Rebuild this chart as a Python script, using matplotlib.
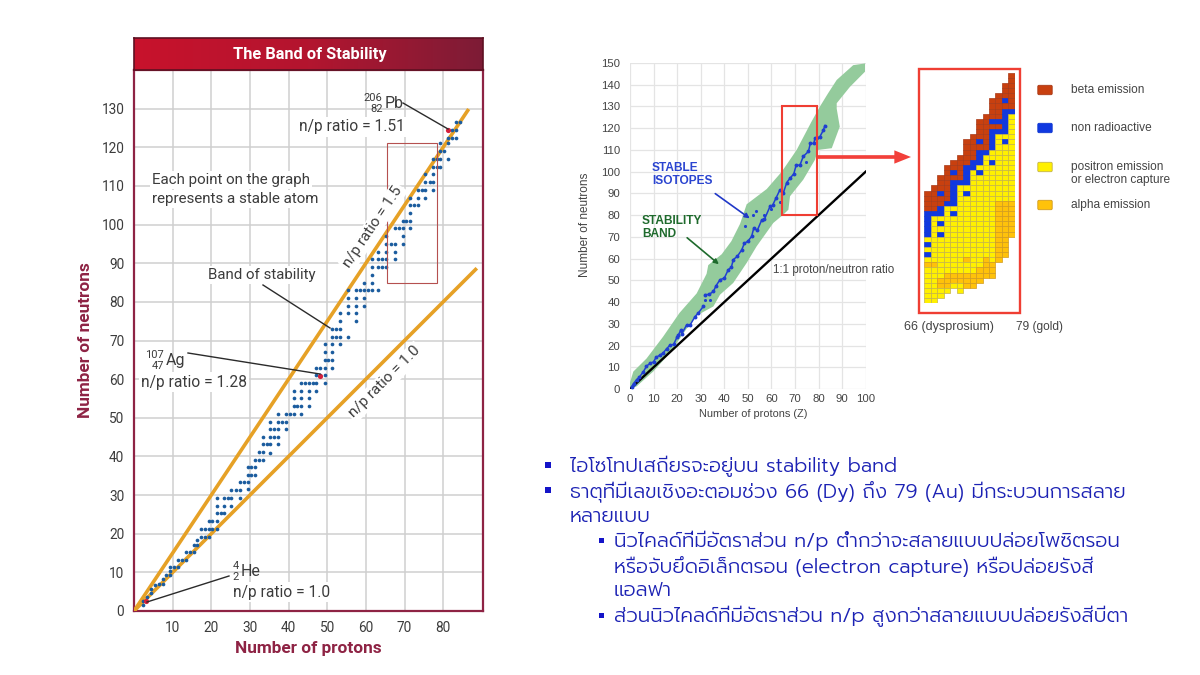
import numpy as np
import matplotlib
matplotlib.use('Agg')
import matplotlib.pyplot as plt
from matplotlib.colors import LinearSegmentedColormap
from matplotlib.patches import Rectangle, FancyBboxPatch

W, H = 1200, 675

# left chart: stable atoms, one list of neutron values per proton column
dot_z = [2.3,3.3,4.3,5.4,6.4,7.4,8.4,9.4,10.4,11.4,12.4,13.4,14.4,15.4,16.4,17.3,18.3,19.3,20.3,21.4,
         22.4,23.3,24.3,25.2,26.3,27.4,28.4,29.5,30.4,31.2,32.3,33.4,34.3,35.1,36.2,37.3,38.4,39.4,40.4,41.3,
         42.3,43.3,44.3,45.2,46.2,47.1,48.2,49.3,50.3,51.3,52.3,53.3,55.4,57.4,58.4,59.5,60.5,61.5,63.2,64.2,
         65.3,66.4,67.5,68.5,69.5,70.5,71.4,72.4,73.4,74.4,75.4,76.5,77.4,78.4,79.3,80.3,81.3,82.3,83.3,84.3]
dot_n = [[1.5,2.6],[3.7],[4.7,5.6],[6.7],[7.1],[7.1,8.2],[9.2],[9.2,10.3,11.4],[11.4],[11.4,13.3],[13.3],
         [13.3,15.3],[15.3],[15.3,17.2],[17.2,18.3],[19.1,21.3],[19.1,21.3],[19.1,21.3,23.4],[21.3,23.4],
         [21.3,23.4,25.3,27.3,29.2],[25.3],[25.3,27.3,29.2],[29.2],[27.3,29.2,31.2],[31.2],[29.2,31.2,33.4],
         [33.4],[31.5,33.4,35.3,37.2],[35.3,37.2],[35.3,37.2,39.1],[39.1,41.1],[39.1,41.1,43.1,45],[43.1],
         [41,43.1,45,47.2,49],[45,47.2],[43.1,45,47.2,49,51],[49],[47.2,49,51],[51],[51,53,55.2,57],[53],
         [51,53,55.2,57,59],[59],[53,55.2,57,59],[59],[57,59,61,63],[61,63],[59,61,63,65,67,69],[65],
         [63,65,67,69,71,73],[71,73],[69,71,73,75,77],[71,77,79,81,83],[75,77,79,81,83],[83],[79,81,83,85],
         [83],[83,85,87,89,91],[83,89,91,93],[89,91],[89,91,93,95,97],[95],[91,93,95,99],[99],[95,97,99,101],
         [101],[99,101,103,105,107],[105],[105,107,109],[109],[107,109,111,113],[111],[109,111,113,115,117],
         [115,117],[115,117,119,121],[119],[117,121,122.5,124.6],[122.5,124.6],[122.5,124.6,126.6],[126.6]]
marked_z = [3.1, 48.2, 81.3]
marked_n = [2.6, 60.9, 124.6]
ratio_one_z = [0, 88.7]
ratio_one_n = [0, 88.7]
ratio_15_z = [0, 86.6]
ratio_15_n = [0, 129.9]
left_ticks_x = [10, 20, 30, 40, 50, 60, 70, 80]
left_ticks_y = [0, 10, 20, 30, 40, 50, 60, 70, 80, 90, 100, 110, 120, 130]
box_z = [65.4, 78.5]
box_n = [85, 121]

# right chart
band_z = [0,1.4,7,14,21,28.3,32.5,33.2,38.9,43,46.7,49.5,58,64.4,70.7,77,80.6,84,87.7,94.7,99.7,
          99.7,93.3,87.7,87.7,89,85.6,79.7,78.5,73.5,67.9,67.2,65,60.8,53.7,49.5,43.8,38.2,35.4,27.6,17,9.9,2.8,0]
band_n = [3,8,14,24,35,44,53,57,62,68,76,85,92,100,110,123,130,136,142.2,149,149.8,
          146,139,131.5,129,120.7,110.8,110,105.5,96.3,88.7,82.5,80.2,76.4,65.6,58,48.8,43.4,38,33.4,16.6,8.1,1.2,0]
chain_z = [0.7,1.5,2.8,4,5.7,7,8.5,10,11,12.7,14,15.5,17,18.5,20,20.5,21.5,22,24,25.5,27.6,29,31.1]
chain_n = [1,2.5,4.3,5.5,8,10.5,11.8,12.5,14.5,15.6,16.5,18.5,20.2,20.5,24,24.8,27,25.5,29.4,29.5,33.3,35,38]
chain2_z = [31.8,33.5,35.4,36.5,38.2,40,41.7,43,43.8,45.5,47.4,48.5,50,51.6,52.5,54,55.9,57,59.4,60.5,62,63.6,
            65,66.5,67.9,69.5,70.5,72.1,73.5,75.7,76.5,78,78.5,80.5,82,82.7]
chain2_n = [43.4,43.5,44.9,47.5,50.3,51,54.9,56,59.5,61,64,67,68,70.2,74,73,77.8,78,84,84.5,88,91.6,
            90,95,97,99,103,103,107,109.3,113,113,115.5,116,119,121.2]
stray_z = [32, 34, 49, 52, 53.5, 57, 60, 63.8, 74.5, 79.5]
stray_n = [41, 41, 75, 80, 82, 80, 83, 86, 104.5, 115.5]
one_to_one_z = [0, 100]
one_to_one_n = [0, 100]
right_ticks_x = list(range(0, 101, 10))
right_ticks_y = list(range(0, 151, 10))
rbox_z = [64.6, 79.5]
rbox_n = [80, 130.3]

# inset: per column, first occupied row and the decay mode of each cell going down
# B beta, N non radioactive, Y positron / electron capture, A alpha
inset_z = [66,67,68,69,70,71,72,73,74,75,76,77,78,79]
inset_first = [23,22,20,18,17,16,13,12,9,8,5,4,2,0]
inset_cells = [
    'BBBBNNNNNYNYNYAYYYYYYY',
    'BBBBBNYYYYYYYYYAYYYYYYY',
    'BBBNBBNNYNYNYYYYYYYYAAYY',
    'BBBBBBBNYYYYYYYYYYYYYAAAY',
    'BBNBNNNNNYNYYYYYYYYYYYAAY',
    'BBBBBNYYYYYYYYYYYYYYYYYAAYY',
    'BBBBBNNNNYNYYYYYYYYYYYYAYYAAA',
    'BBBBBNNYYYYYYYYYYYYYYYYYYYYAAA',
    'BBBBNBNNNYNYYYYYYYYYYYYYYYYYYAAA',
    'BBBBBBBNYYYYYYYYYYYYYYYYYYYYAAAA',
    'BBBBNBNNNNYYNYYYYYYYYYYYYYYYYYYYAAA',
    'BBBBBNBNYYYYYYYYYYYYYAAAAAAAAAAAA',
    'BBBNBNNNNNYNYYYYYYYYYYYAAAAAAAAAAA',
    'BBBBBBBNYYYYYYYYYYYYYYYYYAAAAAAA',
]
cell_face = {'B': '#c8400f', 'N': '#1038e0', 'Y': '#fff000', 'A': '#ffc20a'}
cell_edge = {'B': '#a83a18', 'N': '#1038d0', 'Y': '#c4b34a', 'A': '#d09a20'}
legend_labels = ['beta emission', 'non radioactive', 'positron emission\nor electron capture', 'alpha emission']
legend_codes = ['B', 'N', 'Y', 'A']

thai_level_one = ['ไอโซโทปเสถียรจะอยู่บน stability band',
                  'ธาตุที่มีเลขเชิงอะตอมช่วง 66 (Dy) ถึง 79 (Au) มีกระบวนการสลาย',
                  'หลายแบบ']
thai_level_two = ['นิวไคลด์ที่มีอัตราส่วน n/p ต่ำกว่าจะสลายแบบปล่อยโพซิตรอน',
                  'หรือจับยึดอิเล็กตรอน (electron capture) หรือปล่อยรังสี',
                  'แอลฟา',
                  'ส่วนนิวไคลด์ที่มีอัตราส่วน n/p สูงกว่าสลายแบบปล่อยรังสีบีตา']
thai_family = ['Prompt', 'Kanit', 'Loma', 'DejaVu Sans']

CRIMSON = '#8e2344'
ORANGE = '#e6a126'
GREY = '#3c3c3c'
BLUE_TXT = '#1c22b4'

fig = plt.figure(figsize=(W / 100, H / 100), dpi=100, facecolor='white')


def px_axes(x0, y0, x1, y1):
    return fig.add_axes([x0 / W, 1 - y1 / H, (x1 - x0) / W, (y1 - y0) / H])


# ---- left chart
ax = px_axes(134, 70, 483, 611)
ax.set_xlim(0, 90.3)
ax.set_ylim(0, 140)
ax.set_xticks(left_ticks_x)
ax.set_yticks(left_ticks_y)
ax.grid(color='#cfcfcf', lw=1.1)
ax.set_axisbelow(True)
ax.tick_params(length=0, labelsize=9.8, labelcolor=GREY, pad=7)
for lab in ax.get_xticklabels() + ax.get_yticklabels():
    lab.set_fontfamily('Roboto')
for s in ax.spines.values():
    s.set_color(CRIMSON)
    s.set_linewidth(1.6)
ax.plot(ratio_15_z, ratio_15_n, color=ORANGE, lw=2.6, solid_capstyle='butt', zorder=3)
ax.plot(ratio_one_z, ratio_one_n, color=ORANGE, lw=2.6, solid_capstyle='butt', zorder=3)
for z, ns in zip(dot_z, dot_n):
    ax.scatter([z] * len(ns), ns, s=7, color='#1b5c9e', lw=0, zorder=4)
ax.scatter(marked_z, marked_n, s=14, color='#d6213c', lw=0, zorder=5)
ax.add_patch(Rectangle((box_z[0], box_n[0]), box_z[1] - box_z[0], box_n[1] - box_n[0],
                       fill=False, edgecolor='#b5504f', lw=0.8, zorder=6))

# title band
band = px_axes(134, 38, 483, 70)
band.imshow(np.linspace(0, 1, 256)[None, :], aspect='auto',
            cmap=LinearSegmentedColormap.from_list('head', ['#c8122c', '#b3152f', '#7d1c36']))
band.set_xticks([])
band.set_yticks([])
for s in band.spines.values():
    s.set_color('#5e1022')
    s.set_linewidth(1.2)

# ---- right chart
ar = px_axes(630, 63, 865.7, 389)
ar.set_xlim(0, 100)
ar.set_ylim(0, 150)
ar.set_xticks(right_ticks_x)
ar.set_yticks(right_ticks_y)
ar.grid(color='#e4e4e4', lw=0.9)
ar.set_axisbelow(True)
ar.tick_params(axis='x', length=0, labelsize=8.2, labelcolor='#444444', pad=3.5)
ar.tick_params(axis='y', length=0, labelsize=8.2, labelcolor='#444444', pad=7)
for lab in ar.get_xticklabels() + ar.get_yticklabels():
    lab.set_fontfamily('Liberation Sans')
for s in ar.spines.values():
    s.set_visible(False)
ar.fill(band_z, band_n, color='#94cb9c', lw=0, zorder=2)
ar.plot(one_to_one_z, one_to_one_n, color='black', lw=1.7, zorder=3)
ar.plot(chain_z, chain_n, color='#1f3fd2', lw=1.1, marker='o', ms=1.8, zorder=4)
ar.plot(chain2_z, chain2_n, color='#1f3fd2', lw=1.1, marker='o', ms=1.8, zorder=4)
ar.scatter(stray_z, stray_n, s=5, color='#1f3fd2', lw=0, zorder=4)
ar.add_patch(Rectangle((rbox_z[0], rbox_n[0]), rbox_z[1] - rbox_z[0], rbox_n[1] - rbox_n[0],
                       fill=False, edgecolor='#ef3e33', lw=1.5, zorder=5))

# ---- inset
ai = px_axes(924.3, 72.7, 1014.9, 303.3)
ai.set_xlim(66, 80)
ai.set_ylim(45, 0)
ai.axis('off')
for z, first, cells in zip(inset_z, inset_first, inset_cells):
    for i, code in enumerate(cells):
        ai.add_patch(Rectangle((z, first + i), 1, 1, facecolor=cell_face[code],
                               edgecolor=cell_edge[code], lw=0.5))

# ---- everything placed by pixel
ov = fig.add_axes([0, 0, 1, 1], zorder=10)
ov.set_xlim(0, W)
ov.set_ylim(H, 0)
ov.axis('off')
ov.patch.set_alpha(0)


def t(x, y, s, size=10.8, color=GREY, ha='left', va='center', bg=False, **kw):
    kw.setdefault('family', 'Roboto')
    box = dict(facecolor='white', edgecolor='none', pad=1.5) if bg else None
    return ov.text(x, y, s, fontsize=size, color=color, ha=ha, va=va, bbox=box, **kw)


def leader(x0, y0, x1, y1):
    ov.plot([x0, x1], [y0, y1], color='#2b2b2b', lw=1.0)


t(310, 54, 'The Band of Stability', size=11.8, color='white', ha='center', weight='bold')
t(308, 649, 'Number of protons', size=12.4, color=CRIMSON, ha='center', weight='bold')
t(86, 340, 'Number of neutrons', size=12.4, color=CRIMSON, ha='center', weight='bold', rotation=90)
t(152, 180, 'Each point on the graph', size=10.9, bg=True)
t(152, 199, 'represents a stable atom', size=10.9, bg=True)
t(262, 275, 'Band of stability', ha='center', bg=True)
leader(263, 285, 330, 328)
t(373, 227, 'n/p ratio = 1.5', size=11, ha='center', rotation=56, rotation_mode='anchor', bg=True)
t(385, 382, 'n/p ratio = 1.0', size=11, ha='center', rotation=45, rotation_mode='anchor', bg=True)
t(373, 98, '206', size=8, ha='center')
t(377, 109, '82', size=8, ha='center')
t(394, 104, 'Pb', size=11.5, ha='center')
t(352, 127, 'n/p ratio = 1.51', size=11.2, ha='center', bg=True)
leader(403, 103, 448, 129)
t(154, 355, '107', size=8, ha='center')
t(158, 366, '47', size=8, ha='center')
t(175, 361, 'Ag', size=11.5, ha='center')
t(194, 382, 'n/p ratio = 1.28', size=11.2, ha='center', bg=True)
leader(188, 353, 320, 374)
t(236, 566, '4', size=8, ha='center')
t(236, 577, '2', size=8, ha='center')
t(251, 572, 'He', size=11.5, ha='center')
t(282, 592, 'n/p ratio = 1.0', size=11.2, ha='center', bg=True)
leader(229, 576, 147, 602)

SANS = 'Liberation Sans'
t(585, 225, 'Number of neutrons', size=8.5, color='#444444', ha='center', rotation=90, family=SANS)
t(753, 414, 'Number of protons (Z)', size=7.9, color='#444444', ha='center', family=SANS)
t(773, 270, '1:1 proton/neutron ratio', size=8.4, color='#444444', family=SANS)
t(652, 168, 'STABLE', size=8.6, color='#2a44d0', weight='bold', family=SANS)
t(652, 181, 'ISOTOPES', size=8.6, color='#2a44d0', weight='bold', family=SANS)
t(642, 221, 'STABILITY', size=8.6, color='#1e6a2c', weight='bold', family=SANS)
t(642, 234, 'BAND', size=8.6, color='#1e6a2c', weight='bold', family=SANS)
ov.annotate('', xy=(752, 220), xytext=(713, 192),
            arrowprops=dict(arrowstyle='-|>', color='#2038c8', lw=1.2, mutation_scale=7))
ov.annotate('', xy=(721, 266), xytext=(685, 236),
            arrowprops=dict(arrowstyle='-|>', color='#1e6a2c', lw=1.2, mutation_scale=7))
ov.annotate('', xy=(911, 157), xytext=(818, 157),
            arrowprops=dict(arrowstyle='simple,head_width=0.8,head_length=1.0,tail_width=0.22',
                            color='#f2403a', lw=0, mutation_scale=12, shrinkA=0, shrinkB=0))

ov.add_patch(Rectangle((919, 69), 101, 244, fill=False, edgecolor='#ef3e33', lw=1.7))
t(904, 327, '66 (dysprosium)', size=9, color='#444444', family=SANS)
t(1016, 327, '79 (gold)', size=8.6, color='#444444', family=SANS)

for label, code, y, ty in zip(legend_labels, legend_codes, [90, 128, 167, 205], [90, 128, 173.5, 205]):
    ov.add_patch(FancyBboxPatch((1039, y - 3.5), 12, 7, boxstyle='round,pad=1.2',
                                facecolor=cell_face[code], edgecolor=cell_edge[code], lw=0.6))
    t(1071, ty, label, size=8.6, color='#444444', family=SANS, linespacing=1.2)

# ---- bullets
for y, s in zip([466, 491, 516], thai_level_one):
    t(570, y, s, size=14.4, color=BLUE_TXT, family=thai_family, weight=300)
for y, s in zip([541, 566, 591, 616], thai_level_two):
    t(614, y, s, size=14.4, color=BLUE_TXT, family=thai_family, weight=300)
ov.add_patch(Rectangle((545, 462), 6, 6, color='#1414c8', lw=0))
ov.add_patch(Rectangle((545, 487), 6, 6, color='#1414c8', lw=0))
ov.add_patch(Rectangle((599, 538), 5, 5, color='#1414c8', lw=0))
ov.add_patch(Rectangle((599, 613), 5, 5, color='#1414c8', lw=0))

fig.savefig('out.png', dpi=100)
